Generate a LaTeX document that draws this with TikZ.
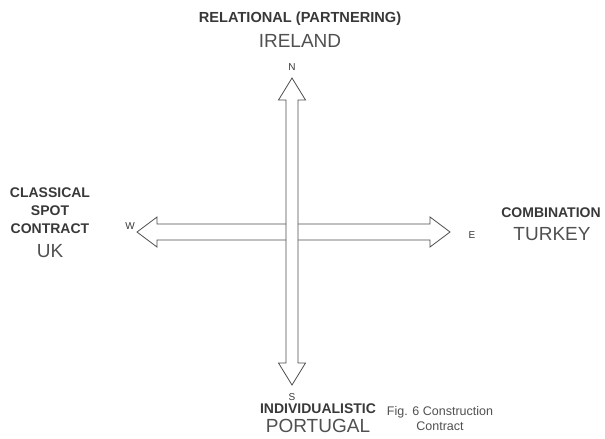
\documentclass[tikz,border=0pt]{standalone}
\usepackage{fontspec}
\setmainfont{Liberation Sans}
\usetikzlibrary{calc}
\definecolor{ink}{HTML}{383838}
\definecolor{greytx}{HTML}{505050}
\definecolor{outline}{HTML}{4D4D4D}
\tikzset{
  heading/.style={font=\bfseries\fontsize{14}{17.5}\selectfont,text=ink,
                  inner sep=0pt,anchor=base,align=center},
  country/.style={font=\fontsize{19}{21}\selectfont,text=greytx,
                  inner sep=0pt,anchor=base},
  compass/.style={font=\fontsize{10}{11}\selectfont,text=ink,
                  inner sep=0pt,anchor=base},
  hollow/.style={draw=outline,line width=0.8pt,fill=white,line join=miter}
}

\begin{document}
\begin{tikzpicture}[x=1pt,y=-1pt]
  \useasboundingbox (0,0) rectangle (605,439);

  % arrow tips
  \coordinate (ntip) at (292,78);
  \coordinate (stip) at (292,385);
  \coordinate (wtip) at (137,232);
  \coordinate (etip) at (450,232);

  % west--east arrow, drawn first so the other one covers it
  \draw[hollow] (wtip) -- ($(wtip)+(20,-15)$) -- ($(wtip)+(20,-8)$)
    -- ($(etip)+(-20,-8)$) -- ($(etip)+(-20,-15)$) -- (etip)
    -- ($(etip)+(-20,15)$) -- ($(etip)+(-20,8)$)
    -- ($(wtip)+(20,8)$) -- ($(wtip)+(20,15)$) -- cycle;
  % north--south arrow
  \draw[hollow] (ntip) -- ($(ntip)+(13.5,22)$) -- ($(ntip)+(6,22)$)
    -- ($(stip)+(6,-22)$) -- ($(stip)+(13.5,-22)$) -- (stip)
    -- ($(stip)+(-13.5,-22)$) -- ($(stip)+(-6,-22)$)
    -- ($(ntip)+(-6,22)$) -- ($(ntip)+(-13.5,22)$) -- cycle;

  \node[compass] (nlab) at (292,70) {N};
  \node[compass] (slab) at (292,400) {S};
  \node[compass] (wlab) at (130,229) {W};
  \node[compass] (elab) at (472,238) {E};

  \node[heading,font=\bfseries\fontsize{14.6}{17}\selectfont]
       (relhead) at (300,23) {RELATIONAL (PARTNERING)};
  \node[country] (ireland) at (300,47) {IRELAND};

  \node[heading] (clshead) at (50,197) {CLASSICAL};
  \node[heading] (spothead) at (50,215) {SPOT};
  \node[heading] (conhead) at (50,233) {CONTRACT};
  \node[country] (uk) at (50,257) {UK};

  \node[heading] (combhead) at (551,217) {COMBINATION};
  \node[country] (turkey) at (552,240) {TURKEY};

  \node[heading] (indhead) at (318,413) {INDIVIDUALISTIC};
  \node[country] (portugal) at (318,432) {PORTUGAL};

  \node[font=\fontsize{12.5}{14}\selectfont,text=greytx,inner sep=0pt,
        anchor=base] (figcap) at (440,415) {Fig. 6 Construction};
  \node[font=\fontsize{12.5}{14}\selectfont,text=greytx,inner sep=0pt,
        anchor=base] (figcap2) at (440,430) {Contract};
\end{tikzpicture}
\end{document}
